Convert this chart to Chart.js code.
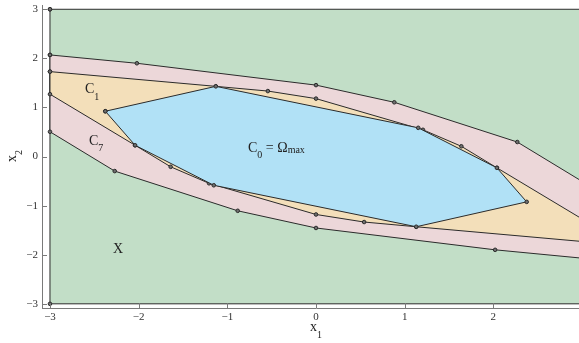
<!DOCTYPE html>
<html>
<head>
<meta charset="utf-8">
<script src="https://cdn.jsdelivr.net/npm/chart.js@4.4.0/dist/chart.umd.min.js"></script>
<style>
  html, body { margin: 0; padding: 0; background: #fff; overflow: hidden; }
  #wrap { width: 600px; height: 343px; }
</style>
</head>
<body>
<div id="wrap"><canvas id="chart" width="600" height="343"></canvas></div>
<script>
// Vertices (x1, x2) of each set, in order around the boundary
const setX = [[-3, 3], [3, 3], [3, -3], [-3, -3]];

const setC7 = [
  [-3, 2.07], [-2.02, 1.90], [0, 1.455], [0.883, 1.105], [2.27, 0.296], [3, -0.505],
  [3, -2.07], [2.02, -1.90], [0, -1.455], [-0.883, -1.105], [-2.27, -0.296], [-3, 0.505],
];

const setC1 = [
  [-3, 1.73], [-1.13, 1.43], [-0.543, 1.334], [0, 1.18], [1.206, 0.545], [1.639, 0.209],
  [2.04, -0.23], [3, -1.27], [3, -1.73], [1.13, -1.43], [0.543, -1.334], [0, -1.18],
  [-1.206, -0.545], [-1.639, -0.209], [-2.04, 0.23], [-3, 1.27],
];

const setC0 = [
  [-2.376, 0.923], [-1.13, 1.43], [1.153, 0.585], [2.04, -0.23],
  [2.376, -0.923], [1.13, -1.43], [-1.153, -0.585], [-2.04, 0.23],
];

const tickValues = [-3, -2, -1, 0, 1, 2, 3];

const SERIF = "'Liberation Serif', 'Times New Roman', serif";
const EDGE = '#2b2b2b';
const AXIS = '#7a7a7a';

function polygon(points, fillColor) {
  const data = points.map(([x, y]) => ({ x, y }));
  data.push({ ...data[0] }); // close the outline
  return {
    data,
    showLine: true,
    fill: 'shape',
    backgroundColor: fillColor,
    borderColor: EDGE,
    borderWidth: 1,
    tension: 0,
    pointRadius: 1.8,
    pointBorderWidth: 1,
    pointBorderColor: EDGE,
    pointBackgroundColor: '#6e6e6e',
  };
}

function fmt(v) {
  return v < 0 ? '\u2212' + Math.abs(v) : String(v);
}

// text with a lowered subscript, returns the x where it ends
function subText(ctx, main, sub, x, y, drop) {
  ctx.font = '14px ' + SERIF;
  ctx.fillText(main, x, y);
  const w = ctx.measureText(main).width;
  ctx.font = '10px ' + SERIF;
  ctx.fillText(sub, x + w, y + drop);
  return x + w + ctx.measureText(sub).width;
}

const annotate = {
  id: 'annotate',
  afterDraw(chart) {
    const { ctx, chartArea } = chart;
    const xs = chart.scales.x;
    const ys = chart.scales.y;
    ctx.save();

    // tick marks pointing into the plot
    ctx.strokeStyle = AXIS;
    ctx.lineWidth = 1;
    ctx.beginPath();
    tickValues.forEach((v) => {
      const py = Math.round(ys.getPixelForValue(v)) + 0.5;
      ctx.moveTo(chartArea.left, py);
      ctx.lineTo(chartArea.left + 5, py);
      const px = Math.round(xs.getPixelForValue(v)) + 0.5;
      ctx.moveTo(px, chartArea.bottom);
      ctx.lineTo(px, chartArea.bottom - 5);
    });
    ctx.stroke();

    ctx.fillStyle = '#222';
    ctx.textBaseline = 'alphabetic';
    ctx.textAlign = 'left';

    // set names
    subText(ctx, 'C', '1', 85, 93, 7);
    subText(ctx, 'C', '7', 89, 145, 6);
    let x = subText(ctx, 'C', '0', 248, 152, 6);
    ctx.font = '14px ' + SERIF;
    ctx.fillText(' = \u03A9', x, 152);
    x += ctx.measureText(' = \u03A9').width;
    ctx.font = '10px ' + SERIF;
    ctx.fillText('max', x, 153);
    ctx.font = '14px ' + SERIF;
    ctx.fillText('X', 113, 253);

    // axis titles
    subText(ctx, 'x', '1', 310, 331, 7);
    ctx.translate(16, 162);
    ctx.rotate(-Math.PI / 2);
    subText(ctx, 'x', '2', 0, 0, 6);

    ctx.restore();
  },
};

function axis(min, max, extra) {
  return {
    type: 'linear',
    min,
    max,
    afterBuildTicks: (s) => { s.ticks = tickValues.map((v) => ({ value: v })); },
    grid: { display: false, drawTicks: false },
    border: { display: true, color: AXIS, width: 1 },
    ticks: {
      font: { family: SERIF, size: 11 },
      color: '#333',
      maxRotation: 0,
      autoSkip: false,
      callback: fmt,
      ...extra,
    },
  };
}

new Chart(document.getElementById('chart'), {
  type: 'scatter',
  data: {
    datasets: [
      polygon(setC0, '#b1e1f6'),
      polygon(setC1, '#f3dfba'),
      polygon(setC7, '#ecd7d9'),
      polygon(setX, '#c2dec7'),
    ],
  },
  options: {
    responsive: false,
    animation: false,
    events: [],
    layout: { padding: { top: 3, right: 10, left: 0, bottom: 0 } },
    plugins: { legend: { display: false }, tooltip: { enabled: false } },
    scales: {
      x: {
        ...axis(-3.09, 3.09, { padding: 3 }),
        afterFit: (s) => { s.height = 35; s.paddingLeft = 0; s.paddingRight = 0; },
      },
      y: {
        ...axis(-3.085, 3.087, { padding: 4 }),
        afterFit: (s) => { s.width = 42; s.paddingTop = 0; s.paddingBottom = 0; },
      },
    },
  },
  plugins: [annotate],
});
</script>
</body>
</html>
